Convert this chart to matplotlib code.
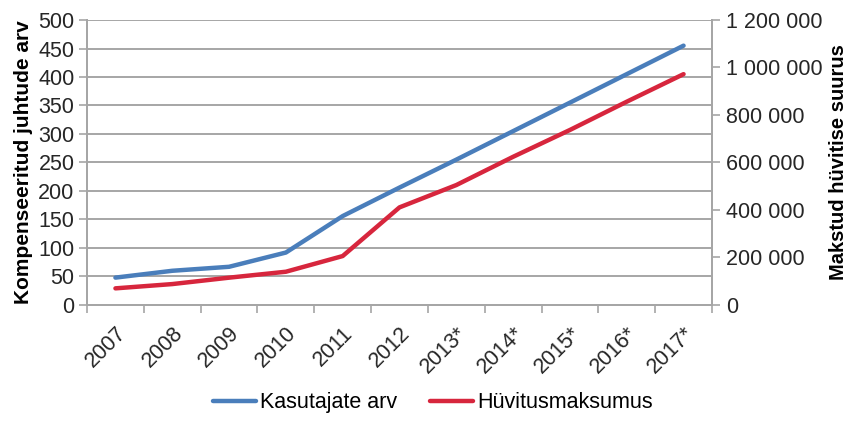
import numpy as np
import matplotlib.pyplot as plt
from matplotlib.ticker import FuncFormatter, MultipleLocator

plt.rcParams['font.family'] = ['Liberation Sans', 'DejaVu Sans']

years = ['2007', '2008', '2009', '2010', '2011', '2012',
         '2013*', '2014*', '2015*', '2016*', '2017*']
kasutajate_arv = [48, 60, 67, 92, 156, 206, 255, 305, 355, 405, 455]
huvitusmaksumus = [70000, 88000, 115000, 140000, 206000, 411000,
                   505000, 624000, 737000, 856000, 972000]

blue = '#4A7EBB'
red = '#D7263D'
grid_col = '#A6A6A6'
txt_col = '#262626'

fig = plt.figure(figsize=(8.49, 4.22), dpi=100)
ax = fig.add_axes([0.1025, 0.2773, 0.7361, 0.6753])
ax2 = ax.twinx()

x = np.arange(len(years))
ax.plot(x, kasutajate_arv, color=blue, lw=3.2, solid_capstyle='round',
        label='Kasutajate arv', zorder=3)
ax2.plot(x, huvitusmaksumus, color=red, lw=3.2, solid_capstyle='round',
         label='Hüvitusmaksumus', zorder=3)

ax.set_xlim(-0.5, len(years) - 0.5)
ax.set_ylim(0, 500)
ax2.set_ylim(0, 1200000)

ax.yaxis.set_major_locator(MultipleLocator(50))
ax.grid(axis='y', color=grid_col, lw=1.4)
ax.set_axisbelow(True)

ax.set_xticks(np.arange(-0.5, len(years)), labels=[''] * (len(years) + 1))
ax.set_xticks(x, labels=years, minor=True)
ax.tick_params(axis='x', which='major', length=6, width=1.2, color=grid_col)
ax.tick_params(axis='x', which='minor', length=0, pad=13)
for lab in ax.get_xticklabels(minor=True):
    lab.set_rotation(45)
    lab.set_ha('right')
    lab.set_va('top')
    lab.set_rotation_mode('anchor')
    lab.set_fontsize(15.5)
    lab.set_color(txt_col)

ax.tick_params(axis='y', length=6, width=1.2, color=grid_col,
               labelsize=15.5, labelcolor=txt_col, pad=3)
ax2.yaxis.set_major_locator(MultipleLocator(200000))
ax2.yaxis.set_major_formatter(
    FuncFormatter(lambda v, p: f'{int(v):,}'.replace(',', ' ')))
ax2.tick_params(axis='y', length=6, width=1.2, color=grid_col,
                labelsize=15.5, labelcolor=txt_col, pad=4)

for a in (ax, ax2):
    a.spines['top'].set_visible(False)
    for s in ('left', 'right', 'bottom'):
        a.spines[s].set_color(grid_col)
        a.spines[s].set_linewidth(1.4)

ax.set_ylabel('Kompenseeritud juhtude arv', fontsize=15, fontweight='bold',
              color='black', labelpad=4)
ax2.set_ylabel('Makstud hüvitise suurus', fontsize=14.5, fontweight='bold',
               color='black', labelpad=5)

h1, l1 = ax.get_legend_handles_labels()
h2, l2 = ax2.get_legend_handles_labels()
fig.legend(h1 + h2, l1 + l2, loc='lower center', bbox_to_anchor=(0.51, -0.025),
           ncol=2, frameon=False, fontsize=15.5, handlelength=2.0,
           handletextpad=0.2, columnspacing=1.5)

fig.savefig('out.png', dpi=100)
